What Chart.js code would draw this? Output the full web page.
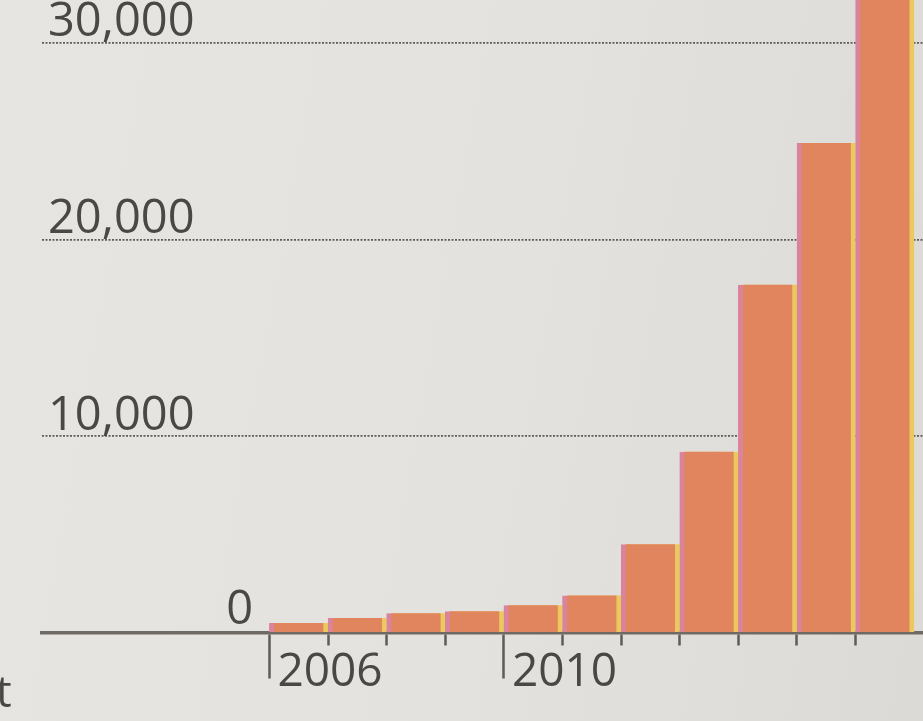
<!DOCTYPE html>
<html>
<head>
<meta charset="utf-8">
<script src="https://cdn.jsdelivr.net/npm/chart.js@4/dist/chart.umd.min.js"></script>
<style>
  html, body { margin: 0; padding: 0; }
  body {
    width: 923px; height: 721px; overflow: hidden; position: relative;
    background: linear-gradient(100deg, #e6e5e2 0%, #e3e2df 55%, #dcdad6 100%);
  }
  #wrap { position: absolute; left: 0; top: 0; width: 923px; height: 721px; }
  #edge { position: absolute; left: -4px; top: 660px; font: 44px "Open Sans", sans-serif; color: #4a4844; }
</style>
</head>
<body>
<div id="wrap"><canvas id="c" width="923" height="721"></canvas></div>
<div id="edge">t</div>
<script>
// ---- data ----
const years  = [2006, 2007, 2008, 2009, 2010, 2011, 2012, 2013, 2014, 2015, 2016];
const values = [500, 750, 1000, 1100, 1400, 1900, 4500, 9200, 17700, 24900, 33000];
const yTickValues = [0, 10000, 20000, 30000];
const yearLabels = ['2006', '2010'];

// each bar spans its year: from the year's tick to the next one
const points = years.map((yr, i) => ({ x: yr + 0.5, y: values[i] }));

const INK = '#4a4844';
const FONT = '"Open Sans", sans-serif';
const Y_MIN = -2745;   // room below the baseline for the year labels
const Y_MAX = 30437;

new Chart(document.getElementById('c'), {
  type: 'bar',
  data: {
    datasets: [
      { // misregistered print layer: pink on the left, yellow on the right
        data: points,
        backgroundColor: '#ecc95c',
        borderColor: '#d9849a',
        borderWidth: { left: 7, right: 0, top: 0, bottom: 0 },
        borderSkipped: false,
        barPercentage: 1.0,
        categoryPercentage: 1.0,
        grouped: false,
        clip: false,
        order: 2
      },
      {
        data: points,
        backgroundColor: '#e1855e',
        borderWidth: 0,
        barPercentage: 0.84,
        categoryPercentage: 1.0,
        grouped: false,
        clip: false,
        order: 1
      }
    ]
  },
  options: {
    responsive: false,
    animation: false,
    events: [],
    layout: { padding: { left: 30, right: 0, top: 0, bottom: 0 } },
    plugins: { legend: { display: false }, tooltip: { enabled: false } },
    scales: {
      x: {
        type: 'linear',
        position: { y: 0 },
        offset: false,
        min: 2002.12,
        max: 2017.15,
        afterBuildTicks: (s) => { s.ticks = years.map(v => ({ value: v })); },
        ticks: {
          autoSkip: false,
          maxRotation: 0,
          align: 'start',
          labelOffset: 8,
          padding: -32,
          color: INK,
          font: { family: FONT, size: 46 },
          callback: (v) => yearLabels.includes(String(v)) ? String(v) : ''
        },
        grid: {
          offset: false,
          drawOnChartArea: false,
          drawTicks: true,
          tickLength: 44,
          tickWidth: 2.5,
          tickColor: '#5f5b56',
          tickBorderDash: (ctx) => (ctx.tick && yearLabels.includes(String(ctx.tick.value))) ? [] : [11, 200]
        },
        border: { display: true, color: '#6f6a64', width: 3.5 }
      },
      y: {
        position: 'left',
        min: Y_MIN,
        max: Y_MAX,
        afterBuildTicks: (s) => { s.ticks = yTickValues.map(v => ({ value: v })); },
        ticks: {
          mirror: true,
          padding: 6,
          labelOffset: -20,
          color: INK,
          font: { family: FONT, size: 47 },
          callback: (v) => v === 0 ? '' : v.toLocaleString('en-US')
        },
        grid: {
          drawTicks: false,
          color: (ctx) => ctx.tick && ctx.tick.value === 0 ? 'rgba(0,0,0,0)' : 'rgba(70,68,64,0.85)',
          lineWidth: 1.8
        },
        border: { display: false, dash: [2, 1.5] }
      },
      y0: {
        position: { x: 2005.72 },
        min: Y_MIN,
        max: Y_MAX,
        afterBuildTicks: (s) => { s.ticks = [{ value: yTickValues[0] }]; },
        ticks: {
          padding: 0,
          labelOffset: -22,
          color: INK,
          font: { family: FONT, size: 47 },
          callback: (v) => String(v)
        },
        grid: { display: false, drawTicks: false },
        border: { display: false }
      }
    }
  }
});
</script>
</body>
</html>
